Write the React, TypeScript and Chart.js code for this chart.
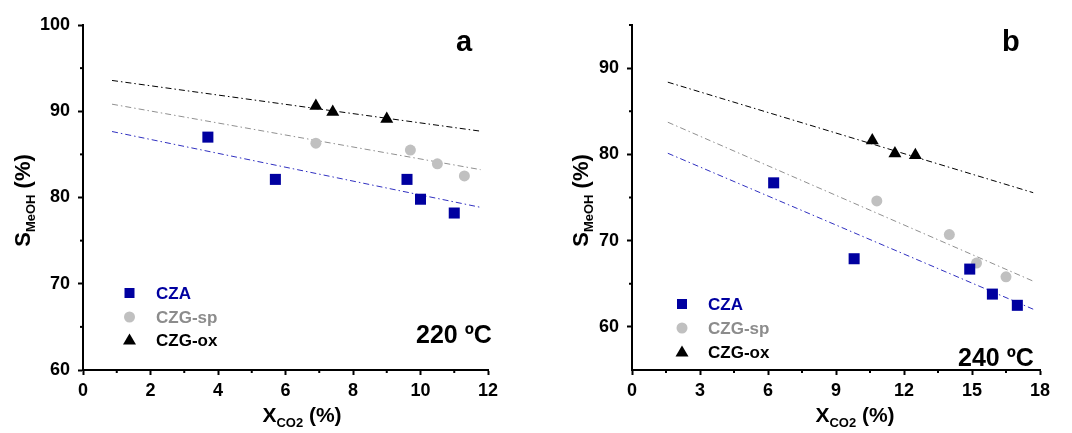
import React, { useEffect, useRef } from 'react';
import { Chart, registerables } from 'chart.js';
Chart.register(...registerables);

const FONT = '"Liberation Sans", Arial, sans-serif';
const BLUE = '#0000a0';
const GRAY = '#c0c0c0';
const GRAY_TEXT = '#8c8c8c';
const BLACK = '#000000';

// ---------- Panel a (220 ºC) ----------
const czaA_x = [3.7, 5.7, 9.6, 10.0, 11.0];
const czaA_y = [87.0, 82.1, 82.1, 79.8, 78.2];
const spA_x = [6.9, 9.7, 10.5, 11.3];
const spA_y = [86.3, 85.5, 83.9, 82.5];
const oxA_x = [6.9, 7.4, 9.0];
const oxA_y = [90.6, 89.9, 89.1];
const fitA_x = [0.86, 11.78];
const czaFitA_y = [87.65, 78.86];
const spFitA_y = [90.82, 83.23];
const oxFitA_y = [93.57, 87.69];
const xTicksA = [0, 2, 4, 6, 8, 10, 12];
const xMinorA = [1, 3, 5, 7, 9, 11];
const yTicksA = [60, 70, 80, 90, 100];
const yMinorA = [65, 75, 85, 95];

// ---------- Panel b (240 ºC) ----------
const czaB_x = [6.25, 9.8, 14.9, 15.9, 17.0];
const czaB_y = [76.7, 67.9, 66.7, 63.8, 62.5];
const spB_x = [10.8, 14.0, 15.2, 16.5];
const spB_y = [74.6, 70.7, 67.4, 65.8];
const oxB_x = [10.6, 11.6, 12.5];
const oxB_y = [81.6, 80.1, 79.9];
const fitB_x = [1.58, 17.7];
const czaFitB_y = [80.13, 62.05];
const spFitB_y = [83.73, 65.3];
const oxFitB_y = [88.37, 75.56];
const xTicksB = [0, 3, 6, 9, 12, 15, 18];
const xMinorB = [1.5, 4.5, 7.5, 10.5, 13.5, 16.5];
const yTicksB = [60, 70, 80, 90];
const yMinorB = [55, 65, 75, 85, 95];

const legendLabels = ['CZA', 'CZG-sp', 'CZG-ox'];

const pts = (xs: number[], ys: number[]) => xs.map((x, i) => ({ x, y: ys[i] }));

type PanelCfg = {
  id: string;
  left: number;
  yAxisWidth: number;
  padRight: number;
  xMin: number; xMax: number; yMin: number; yMax: number;
  xTicks: number[]; xMinor: number[]; yTicks: number[]; yMinor: number[];
  cza: [number[], number[]]; sp: [number[], number[]]; ox: [number[], number[]];
  fitX: number[]; czaFit: number[]; spFit: number[]; oxFit: number[];
  letter: string; letterX: number; letterY: number;
  temp: string; tempX: number; tempY: number;
  legX: number; legTextX: number; legY: number[];
  yTitleX: number; xTitleCX: number;
};

const panels: PanelCfg[] = [
  {
    id: 'a', left: 0, yAxisWidth: 83, padRight: 48,
    xMin: 0, xMax: 12, yMin: 60, yMax: 100,
    xTicks: xTicksA, xMinor: xMinorA, yTicks: yTicksA, yMinor: yMinorA,
    cza: [czaA_x, czaA_y], sp: [spA_x, spA_y], ox: [oxA_x, oxA_y],
    fitX: fitA_x, czaFit: czaFitA_y, spFit: spFitA_y, oxFit: oxFitA_y,
    letter: 'a', letterX: 456, letterY: 51,
    temp: '220 ºC', tempX: 416, tempY: 343,
    legX: 129.5, legTextX: 156, legY: [293, 317, 340],
    yTitleX: 22, xTitleCX: 302,
  },
  {
    id: 'b', left: 536, yAxisWidth: 96, padRight: 32,
    xMin: 0, xMax: 18, yMin: 55, yMax: 95,
    xTicks: xTicksB, xMinor: xMinorB, yTicks: yTicksB, yMinor: yMinorB,
    cza: [czaB_x, czaB_y], sp: [spB_x, spB_y], ox: [oxB_x, oxB_y],
    fitX: fitB_x, czaFit: czaFitB_y, spFit: spFitB_y, oxFit: oxFitB_y,
    letter: 'b', letterX: 466, letterY: 51,
    temp: '240 ºC', tempX: 422, tempY: 366,
    legX: 146, legTextX: 172, legY: [304, 328, 352],
    yTitleX: 44, xTitleCX: 319,
  },
];

function drawMarker(ctx: CanvasRenderingContext2D, kind: string, x: number, y: number) {
  ctx.beginPath();
  if (kind === 'rect') {
    ctx.fillStyle = BLUE;
    ctx.rect(x - 5, y - 5, 10, 10);
  } else if (kind === 'circle') {
    ctx.fillStyle = GRAY;
    ctx.arc(x, y, 5.5, 0, Math.PI * 2);
  } else {
    ctx.fillStyle = BLACK;
    ctx.moveTo(x, y - 6.5);
    ctx.lineTo(x + 6.5, y + 4.5);
    ctx.lineTo(x - 6.5, y + 4.5);
    ctx.closePath();
  }
  ctx.fill();
}

function makeOverlay(p: PanelCfg) {
  return {
    id: 'overlay_' + p.id,
    afterDraw(chart: any) {
      const ctx: CanvasRenderingContext2D = chart.ctx;
      const { left, top, bottom } = chart.chartArea;
      const xs = chart.scales.x;
      const ys = chart.scales.y;
      ctx.save();
      // minor ticks
      ctx.strokeStyle = BLACK;
      ctx.lineWidth = 2;
      p.xMinor.forEach((v) => {
        const px = xs.getPixelForValue(v);
        ctx.beginPath();
        ctx.moveTo(px, bottom);
        ctx.lineTo(px, bottom + 3);
        ctx.stroke();
      });
      p.yMinor.forEach((v) => {
        const py = ys.getPixelForValue(v);
        if (py > bottom - 1) return;
        ctx.beginPath();
        ctx.moveTo(left, py);
        ctx.lineTo(left - 3, py);
        ctx.stroke();
      });

      ctx.fillStyle = BLACK;
      ctx.textBaseline = 'alphabetic';

      // y title: S_MeOH (%)
      const bigY = `bold 22px ${FONT}`;
      const smallY = `bold 13px ${FONT}`;
      ctx.font = bigY;
      const wS = ctx.measureText('S').width;
      const wPY = ctx.measureText(' (%)').width;
      ctx.font = smallY;
      const wSub = ctx.measureText('MeOH').width;
      const totalY = wS + wSub + wPY;
      const cy = (top + bottom) / 2 + 3;
      ctx.save();
      ctx.translate(p.yTitleX + 8, cy);
      ctx.rotate(-Math.PI / 2);
      let cx = -totalY / 2;
      ctx.font = bigY;
      ctx.fillText('S', cx, 0);
      cx += wS;
      ctx.font = smallY;
      ctx.fillText('MeOH', cx, 5);
      cx += wSub;
      ctx.font = bigY;
      ctx.fillText(' (%)', cx, 0);
      ctx.restore();

      // x title: X_CO2 (%)
      const bigX = `bold 21px ${FONT}`;
      const smallX = `bold 13px ${FONT}`;
      ctx.font = bigX;
      const wX = ctx.measureText('X').width;
      const wPX = ctx.measureText(' (%)').width;
      ctx.font = smallX;
      const wCO = ctx.measureText('CO2').width;
      const totalX = wX + wCO + wPX;
      let tx = p.xTitleCX - totalX / 2;
      const by = 422;
      ctx.font = bigX;
      ctx.fillText('X', tx, by);
      tx += wX;
      ctx.font = smallX;
      ctx.fillText('CO2', tx, by + 5);
      tx += wCO;
      ctx.font = bigX;
      ctx.fillText(' (%)', tx, by);

      // panel letter
      ctx.font = `bold 29px ${FONT}`;
      ctx.fillText(p.letter, p.letterX, p.letterY);

      // temperature
      ctx.font = `bold 25px ${FONT}`;
      ctx.fillText(p.temp, p.tempX, p.tempY);

      // legend
      const kinds = ['rect', 'circle', 'tri'];
      const colors = [BLUE, GRAY_TEXT, BLACK];
      ctx.font = `bold 17px ${FONT}`;
      ctx.textBaseline = 'middle';
      legendLabels.forEach((lab, i) => {
        drawMarker(ctx, kinds[i], p.legX, p.legY[i]);
        ctx.fillStyle = colors[i];
        ctx.fillText(lab, p.legTextX, p.legY[i] + 1);
      });
      ctx.restore();
    },
  };
}

function Panel({ p }: { p: PanelCfg }) {
  const ref = useRef<HTMLCanvasElement>(null);
  useEffect(() => {
    if (!ref.current) return;
    const fitStyle = (color: string) => ({
      showLine: true,
      pointRadius: 0,
      borderColor: color,
      borderWidth: 1,
      borderDash: [6, 3, 1.5, 3],
      fill: false,
    });
    const chart = new Chart(ref.current, {
      type: 'scatter',
      data: {
        datasets: [
          {
            label: 'CZA',
            data: pts(p.cza[0], p.cza[1]),
            pointStyle: 'rect',
            pointRadius: 7.8,
            backgroundColor: BLUE,
            borderColor: BLUE,
            borderWidth: 0,
          },
          {
            label: 'CZG-sp',
            data: pts(p.sp[0], p.sp[1]),
            pointStyle: 'circle',
            pointRadius: 5.5,
            backgroundColor: GRAY,
            borderColor: GRAY,
            borderWidth: 0,
          },
          {
            label: 'CZG-ox',
            data: pts(p.ox[0], p.ox[1]),
            pointStyle: 'triangle',
            pointRadius: 7.5,
            backgroundColor: BLACK,
            borderColor: BLACK,
            borderWidth: 0,
          },
          { label: 'fitCZA', data: pts(p.fitX, p.czaFit), ...fitStyle('#3030c0') } as any,
          { label: 'fitSP', data: pts(p.fitX, p.spFit), ...fitStyle('#909090') } as any,
          { label: 'fitOX', data: pts(p.fitX, p.oxFit), ...fitStyle('#000000') } as any,
        ],
      },
      options: {
        responsive: false,
        animation: false,
        events: [],
        layout: { padding: { left: 0, top: 25, right: p.padRight, bottom: 0 } },
        plugins: { legend: { display: false }, tooltip: { enabled: false }, title: { display: false } },
        scales: {
          x: {
            type: 'linear',
            min: p.xMin,
            max: p.xMax,
            afterBuildTicks: (s: any) => { s.ticks = p.xTicks.map((v) => ({ value: v })); },
            afterFit: (s: any) => { s.height = 63; },
            ticks: {
              color: BLACK,
              font: { family: FONT, size: 18, weight: 'bold' },
              padding: 5,
              maxRotation: 0,
              autoSkip: false,
            },
            grid: { drawOnChartArea: false, drawTicks: true, tickLength: 5, tickWidth: 2, tickColor: BLACK },
            border: { display: true, width: 2, color: BLACK },
          },
          y: {
            type: 'linear',
            min: p.yMin,
            max: p.yMax,
            afterBuildTicks: (s: any) => { s.ticks = p.yTicks.map((v) => ({ value: v })); },
            afterFit: (s: any) => { s.width = p.yAxisWidth; },
            ticks: {
              color: BLACK,
              font: { family: FONT, size: 18, weight: 'bold' },
              padding: 8,
              autoSkip: false,
            },
            grid: { drawOnChartArea: false, drawTicks: true, tickLength: 5, tickWidth: 2, tickColor: BLACK },
            border: { display: true, width: 2, color: BLACK },
          },
        },
      } as any,
      plugins: [makeOverlay(p)],
    });
    return () => chart.destroy();
  }, [p]);
  return (
    <div style={{ position: 'absolute', left: p.left, top: 0, width: 536, height: 433 }}>
      <canvas ref={ref} width={536} height={433} style={{ display: 'block' }} />
    </div>
  );
}

export default function App() {
  return (
    <div style={{ position: 'fixed', left: 0, top: 0, width: 1072, height: 433, background: '#fff', overflow: 'hidden' }}>
      {panels.map((p) => (
        <Panel key={p.id} p={p} />
      ))}
    </div>
  );
}
